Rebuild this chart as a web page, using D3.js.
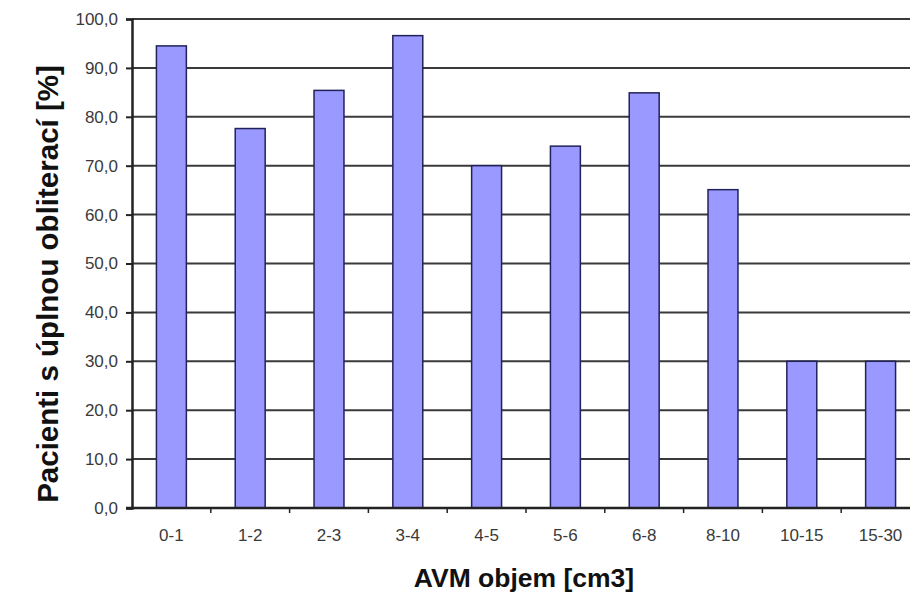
<!DOCTYPE html>
<html>
<head>
<meta charset="utf-8">
<script src="https://cdn.jsdelivr.net/npm/d3@7"></script>
<style>
  body { margin: 0; background: #fff; }
  svg { display: block; font-family: "Liberation Sans", Arial, sans-serif; }
</style>
</head>
<body>
<div id="chart"></div>
<script>
const categories = ["0-1", "1-2", "2-3", "3-4", "4-5", "5-6", "6-8", "8-10", "10-15", "15-30"];
const values = [94.5, 77.6, 85.4, 96.6, 70.0, 74.0, 84.9, 65.1, 30.0, 30.0];
const yTicks = [0, 10, 20, 30, 40, 50, 60, 70, 80, 90, 100];

const W = 910, H = 593;
const margin = { top: 19, left: 132, bottom: 85 };
const plotW = 788;
const height = H - margin.top - margin.bottom;

const svg = d3.select("#chart").append("svg")
    .attr("width", W)
    .attr("height", H);

const g = svg.append("g")
    .attr("transform", `translate(${margin.left},${margin.top})`);

const x = d3.scaleBand().domain(categories).range([0, plotW]).paddingInner(0.62).paddingOuter(0.31);
const y = d3.scaleLinear().domain([0, 100]).range([height, 0]);

// gridlines
g.selectAll("line.grid")
    .data(yTicks.filter(d => d > 0))
    .join("line")
    .attr("class", "grid")
    .attr("x1", 0).attr("x2", plotW)
    .attr("y1", d => y(d)).attr("y2", d => y(d))
    .attr("stroke", "#3a3a3a")
    .attr("stroke-width", 2);

// bars
g.selectAll("rect.bar")
    .data(values)
    .join("rect")
    .attr("class", "bar")
    .attr("x", (d, i) => x(categories[i]))
    .attr("y", d => y(d))
    .attr("width", x.bandwidth())
    .attr("height", d => height - y(d))
    .attr("fill", "#9999ff")
    .attr("stroke", "#22225a")
    .attr("stroke-width", 1.5);

// Y axis
const yAxis = g.append("g")
    .call(d3.axisLeft(y).tickValues(yTicks).tickSize(6).tickFormat(d => d3.format(".1f")(d).replace(".", ",")));
yAxis.attr("font-size", null).attr("font-family", null);
yAxis.select(".domain").attr("stroke", "#222").attr("stroke-width", 2.5);
yAxis.selectAll(".tick line").attr("stroke", "#222").attr("stroke-width", 2);
yAxis.selectAll("text").style("font-size", "17px").attr("fill", "#3a3a3a").attr("x", -14);

// X axis
const step = x.step();
const xAxis = g.append("g")
    .attr("transform", `translate(0,${height})`);
xAxis.append("line")
    .attr("x1", -6).attr("x2", plotW)
    .attr("stroke", "#222").attr("stroke-width", 2.5);
xAxis.selectAll("line.tick")
    .data(categories.slice(1))
    .join("line")
    .attr("class", "tick")
    .attr("x1", d => x(d) - (x.paddingInner() * step) / 2)
    .attr("x2", d => x(d) - (x.paddingInner() * step) / 2)
    .attr("y1", 0).attr("y2", 5)
    .attr("stroke", "#222").attr("stroke-width", 1.5);
xAxis.selectAll("text")
    .data(categories)
    .join("text")
    .attr("x", d => x(d) + x.bandwidth() / 2)
    .attr("y", 33)
    .attr("text-anchor", "middle")
    .style("font-size", "17px")
    .attr("fill", "#3a3a3a")
    .text(d => d);

// axis titles
svg.append("text")
    .attr("x", 524)
    .attr("y", 587)
    .attr("text-anchor", "middle")
    .style("font-size", "26.5px")
    .attr("font-weight", "bold")
    .attr("fill", "#111")
    .text("AVM objem [cm3]");

svg.append("text")
    .attr("transform", `translate(58,284) rotate(-90)`)
    .attr("text-anchor", "middle")
    .style("font-size", "29.5px")
    .attr("font-weight", "bold")
    .attr("fill", "#111")
    .text("Pacienti s úplnou obliterací [%]");
</script>
</body>
</html>
